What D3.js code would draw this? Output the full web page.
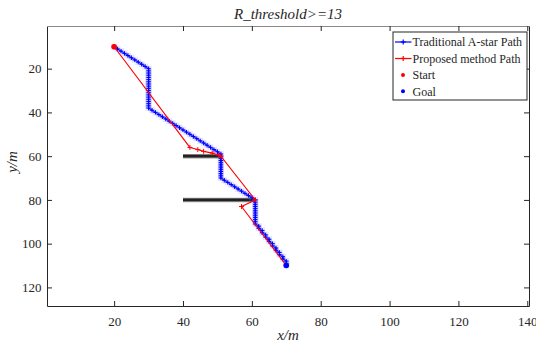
<!DOCTYPE html>
<html><head><meta charset="utf-8">
<script src="https://cdn.jsdelivr.net/npm/d3@7"></script>
<style>
body{margin:0;background:#fff;}
svg{display:block;}
text{font-family:"Liberation Serif","Times New Roman",serif;fill:#262626;}
</style></head>
<body>
<svg id="c" width="536" height="352"></svg>
<script>
// ---- data ----
const titleText = "R_threshold>=13";
const xTicks = [20,40,60,80,100,120,140];
const yTicks = [20,40,60,80,100,120];
const xDomain = [0.5,140.5];
const yDomain = [0.5,128.5];
const seriesNames = ["Traditional A-star Path","Proposed method Path","Start","Goal"];
const astarPath = [
 [20,10],[21,11],[22,12],[23,13],[24,14],[25,15],[26,16],[27,17],[28,18],[29,19],[30,20],
 [30,21],[30,22],[30,23],[30,24],[30,25],[30,26],[30,27],[30,28],[30,29],[30,30],[30,31],[30,32],[30,33],[30,34],[30,35],[30,36],[30,37],[30,38],
 [31,39],[32,40],[33,41],[34,42],[35,43],[36,44],[37,45],[38,46],[39,47],[40,48],[41,49],[42,50],[43,51],[44,52],[45,53],[46,54],[47,55],[48,56],[49,57],[50,58],[51,59],
 [51,60],[51,61],[51,62],[51,63],[51,64],[51,65],[51,66],[51,67],[51,68],[51,69],[51,70],
 [52,71],[53,72],[54,73],[55,74],[56,75],[57,76],[58,77],[59,78],[60,79],[61,80],
 [61,81],[61,82],[61,83],[61,84],[61,85],[61,86],[61,87],[61,88],[61,89],[61,90],[61,91],
 [62,92],[62,93],[63,94],[63,95],[64,96],[64,97],[65,98],[65,99],[66,100],[66,101],[67,102],[67,103],[68,104],[68,105],[69,106],[69,107],[70,108],[70,109],[70,110]
];
const proposedPath = [[20,10],[42,56],[44.3,57],[46,57.8],[48.5,58.6],[50.3,59.5],[51,60],[61,80],[57,83],[70,110]];
const startPoint = [20,10];
const goalPoint = [70,110];
const obstacles = [ [[40,60],[51,60]], [[40,80],[61,80]] ];

// ---- layout ----
const svg = d3.select("#c");
const L=47, R=529, T=26, B=306;
const x = d3.scaleLinear().domain(xDomain).range([L,R]);
const y = d3.scaleLinear().domain(yDomain).range([T,B]);

svg.append("rect").attr("x",L).attr("y",T).attr("width",R-L).attr("height",B-T).attr("fill","#fff");

// obstacles
obstacles.forEach(o=>{
  svg.append("line").attr("x1",x(o[0][0])).attr("y1",y(o[0][1])).attr("x2",x(o[1][0])).attr("y2",y(o[1][1]))
    .attr("stroke","#9a9a9a").attr("stroke-width",4.5);
  svg.append("line").attr("x1",x(o[0][0])).attr("y1",y(o[0][1])).attr("x2",x(o[1][0])).attr("y2",y(o[1][1]))
    .attr("stroke","#222").attr("stroke-width",2.6);
});

const line = d3.line().x(d=>x(d[0])).y(d=>y(d[1]));

// A-star path
svg.append("path").attr("d",line(astarPath)).attr("fill","none").attr("stroke","#0000ff").attr("stroke-width",1.1);
const plus = (g, cx, cy, s, col, w)=>{
  g.append("line").attr("x1",cx-s).attr("x2",cx+s).attr("y1",cy).attr("y2",cy).attr("stroke",col).attr("stroke-width",w);
  g.append("line").attr("x1",cx).attr("x2",cx).attr("y1",cy-s).attr("y2",cy+s).attr("stroke",col).attr("stroke-width",w);
};
const gA = svg.append("g");
gA.selectAll("rect").data(astarPath).join("rect")
  .attr("x",d=>x(d[0])-3).attr("y",d=>y(d[1])-3).attr("width",6).attr("height",6)
  .attr("fill","rgba(110,110,255,0.18)");
astarPath.forEach(d=>plus(gA,x(d[0]),y(d[1]),2.2,"#0000ff",1.1));

// proposed path
svg.append("path").attr("d",line(proposedPath)).attr("fill","none").attr("stroke","#ff0000").attr("stroke-width",1.1);
const gP = svg.append("g");
proposedPath.forEach(d=>plus(gP,x(d[0]),y(d[1]),2.5,"#ff0000",1));

// start / goal
svg.append("circle").attr("cx",x(startPoint[0])).attr("cy",y(startPoint[1])).attr("r",2.8).attr("fill","#ff0000");
svg.append("circle").attr("cx",x(goalPoint[0])).attr("cy",y(goalPoint[1])).attr("r",2.8).attr("fill","#0000ff");

// axes
const fmt = d3.format("d");
const ax = svg.append("g").attr("transform",`translate(0,${B})`)
  .call(d3.axisBottom(x).tickValues(xTicks).tickFormat(fmt).tickSizeInner(-5).tickSizeOuter(0).tickPadding(11));
const ay = svg.append("g").attr("transform",`translate(${L},0)`)
  .call(d3.axisLeft(y).tickValues(yTicks).tickFormat(fmt).tickSizeInner(-5).tickSizeOuter(0).tickPadding(5.5));
const at = svg.append("g").attr("transform",`translate(0,${T})`)
  .call(d3.axisTop(x).tickValues(xTicks).tickFormat("").tickSizeInner(-5).tickSizeOuter(0));
const ar = svg.append("g").attr("transform",`translate(${R},0)`)
  .call(d3.axisRight(y).tickValues(yTicks).tickFormat("").tickSizeInner(-5).tickSizeOuter(0));
[ax,ay,at,ar].forEach(g=>{
  g.selectAll("path.domain").attr("stroke","#262626").attr("stroke-width",1);
  g.selectAll(".tick line").attr("stroke","#262626").attr("stroke-width",1);
  g.selectAll(".tick text").attr("font-family","Liberation Serif, serif").attr("font-size",13).attr("fill","#262626");
});
at.selectAll("path.domain").attr("stroke","#8a8a8a");

// titles
svg.append("text").attr("x",(L+R)/2).attr("y",19).attr("text-anchor","middle")
  .attr("font-size",15).attr("font-style","italic").text(titleText);
svg.append("text").attr("x",(L+R)/2).attr("y",340).attr("text-anchor","middle")
  .attr("font-size",15).attr("font-style","italic").text("x/m");
svg.append("text").attr("transform","translate(17,162) rotate(-90)").attr("text-anchor","middle")
  .attr("font-size",15).attr("font-style","italic").text("y/m");

// legend
const lg = svg.append("g");
lg.append("rect").attr("x",393).attr("y",32).attr("width",134).attr("height",68)
  .attr("fill","#fff").attr("stroke","#262626").attr("stroke-width",1);
const rowY = [42,58.5,75,91.3];
const cols = ["#0000ff","#ff0000","#ff0000","#0000ff"];
seriesNames.forEach((n,i)=>{
  const cy = rowY[i];
  if(i<2){
    lg.append("line").attr("x1",395).attr("x2",411.5).attr("y1",cy).attr("y2",cy).attr("stroke",cols[i]).attr("stroke-width",1.2);
    plus(lg,403.2,cy,2.5,cols[i],1.2);
  } else {
    lg.append("circle").attr("cx",403).attr("cy",cy).attr("r",2).attr("fill",cols[i]);
  }
  lg.append("text").attr("x",412.5).attr("y",cy+4.2).attr("font-size",12).attr("fill","#000").text(n);
});
</script>
</body></html>
